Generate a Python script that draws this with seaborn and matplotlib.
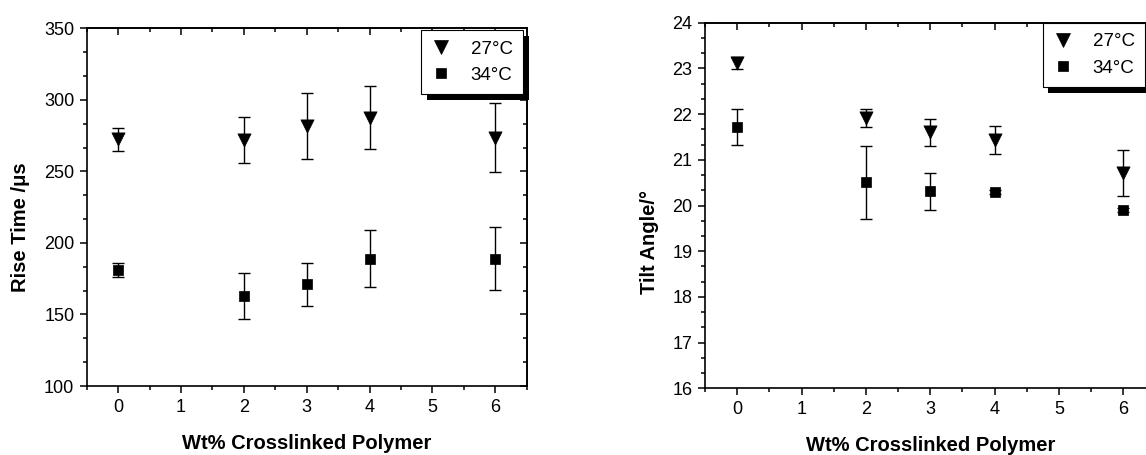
import numpy as np
import pandas as pd
import matplotlib
matplotlib.use("Agg")
import matplotlib.pyplot as plt
import matplotlib.patheffects as pe
from matplotlib.ticker import MultipleLocator
from matplotlib.lines import Line2D
import seaborn as sns

# ---- data ----
wt = [0, 2, 3, 4, 6]
labels = ["27°C", "34°C"]
rise_27 = [272.5, 272, 282, 287.5, 273.5]
rise_27_err = [8, 16, 23, 22, 24]
rise_34 = [181, 163, 171, 189, 189]
rise_34_err = [5, 16, 15, 20, 22]
tilt_27 = [23.12, 21.92, 21.6, 21.43, 20.71]
tilt_27_err = [0.14, 0.2, 0.3, 0.3, 0.5]
tilt_34 = [21.72, 20.51, 20.31, 20.3, 19.9]
tilt_34_err = [0.4, 0.8, 0.4, 0.05, 0.05]

sns.set_theme(style="ticks")
plt.rcParams["font.family"] = ["Liberation Sans", "DejaVu Sans"]
plt.rcParams["axes.linewidth"] = 1.2
for k in ["text.color", "axes.labelcolor", "xtick.color", "ytick.color", "axes.edgecolor"]:
    plt.rcParams[k] = "black"

fig = plt.figure(figsize=(11.46, 4.55), dpi=100)
axL = fig.add_axes([0.0757, 0.1516, 0.3838, 0.7862])
axR = fig.add_axes([0.6152, 0.1466, 0.3931, 0.8035])

markers = {"27°C": "v", "34°C": "s"}
msize = {"27°C": 9.5, "34°C": 7.8}


def panel(ax, y27, e27, y34, e34, ylim, ymaj, ymin, ylabel, ylab_xy, legend_anchor, legend_loc):
    df = pd.DataFrame({
        "wt": wt * 2,
        "val": list(y27) + list(y34),
        "err": list(e27) + list(e34),
        "temp": [labels[0]] * len(wt) + [labels[1]] * len(wt),
    })
    for t in labels:
        sub = df[df["temp"] == t]
        ax.errorbar(sub["wt"], sub["val"], yerr=sub["err"], fmt="none",
                    ecolor="black", elinewidth=1.0, capsize=4, capthick=1.0, zorder=2)
        sns.scatterplot(data=sub, x="wt", y="val", marker=markers[t],
                        s=msize[t] ** 2, color="black", edgecolor="black",
                        linewidth=0.5, ax=ax, zorder=3, legend=False)
    ax.set_xlim(-0.5, 6.5)
    ax.set_ylim(*ylim)
    ax.xaxis.set_major_locator(MultipleLocator(1))
    ax.xaxis.set_minor_locator(MultipleLocator(0.5))
    ax.yaxis.set_major_locator(MultipleLocator(ymaj))
    ax.yaxis.set_minor_locator(MultipleLocator(ymin))
    ax.tick_params(which="both", direction="out", top=False, right=False,
                   width=1.1, colors="black", labelsize=13)
    ax.tick_params(which="major", length=5, pad=4)
    ax.tick_params(which="minor", length=3)
    for s in ax.spines.values():
        s.set_visible(True)
        s.set_color("black")
    sx = ax.secondary_xaxis("top")
    sx.xaxis.set_major_locator(MultipleLocator(1))
    sx.xaxis.set_minor_locator(MultipleLocator(0.5))
    sx.tick_params(which="both", direction="in", labeltop=False, width=1.1, colors="black")
    sx.tick_params(which="major", length=5)
    sx.tick_params(which="minor", length=3)
    sy = ax.secondary_yaxis("right")
    sy.yaxis.set_major_locator(MultipleLocator(ymaj))
    sy.yaxis.set_minor_locator(MultipleLocator(ymin))
    sy.tick_params(which="both", direction="in", labelright=False, width=1.1, colors="black")
    sy.tick_params(which="major", length=5)
    sy.tick_params(which="minor", length=3)
    ax.set_xlabel("Wt% Crosslinked Polymer", fontsize=14.5, fontweight="bold", labelpad=13)
    ax.set_ylabel(ylabel, fontsize=14.5, fontweight="bold")
    ax.yaxis.set_label_coords(*ylab_xy)
    handles = [Line2D([], [], linestyle="none", marker=markers[t], markersize=msize[t],
                      color="black", markeredgewidth=0.5) for t in labels]
    leg = ax.legend(handles, labels, loc=legend_loc, bbox_to_anchor=legend_anchor,
                    frameon=True, fancybox=False, fontsize=13.5, handlelength=1.0,
                    handletextpad=1.1, borderpad=0.55, labelspacing=0.5,
                    borderaxespad=0)
    fr = leg.get_frame()
    fr.set_edgecolor("black")
    fr.set_linewidth(0.8)
    fr.set_facecolor("white")
    fr.set_alpha(1)
    fr.set_path_effects([pe.SimplePatchShadow(offset=(4, -4), shadow_rgbFace="black", alpha=1),
                         pe.Normal()])
    leg.set_zorder(5)


panel(axL, rise_27, rise_27_err, rise_34, rise_34_err, (100, 350), 50, 50 / 3,
      "Rise Time /μs", (-0.129, 0.445), (0.992, 0.995), "upper right")
panel(axR, tilt_27, tilt_27_err, tilt_34, tilt_34_err, (16, 24), 1, 1 / 3,
      "Tilt Angle/°", (-0.102, 0.40), (0.75, 1.0), "upper left")

fig.savefig("out.png", dpi=100)
